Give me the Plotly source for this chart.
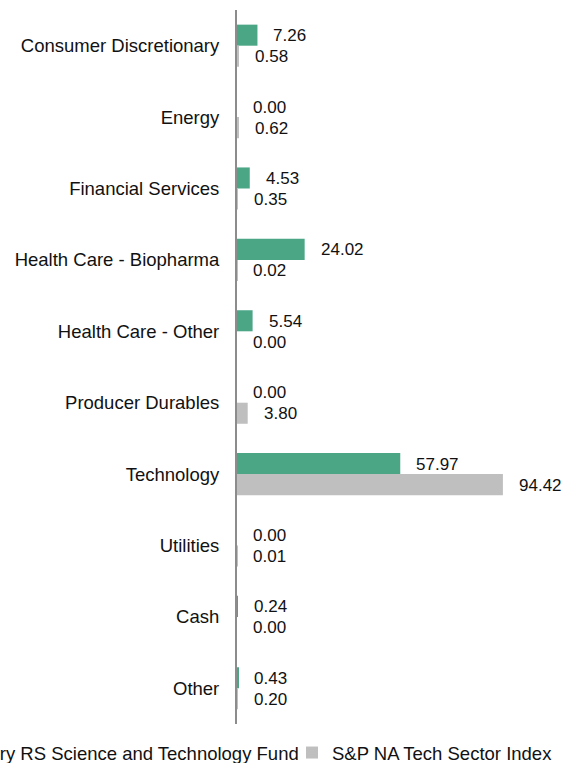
import plotly.graph_objects as go

# Sector weights (%)
categories = [
    "Consumer Discretionary", "Energy", "Financial Services",
    "Health Care - Biopharma", "Health Care - Other", "Producer Durables",
    "Technology", "Utilities", "Cash", "Other",
]
fund_name = "Victory RS Science and Technology Fund"
index_name = "S&P NA Tech Sector Index"
fund_values = [7.26, 0.00, 4.53, 24.02, 5.54, 0.00, 57.97, 0.00, 0.24, 0.43]
index_values = [0.58, 0.62, 0.35, 0.02, 0.00, 3.80, 94.42, 0.01, 0.00, 0.20]

GREEN = "#4BA686"
GRAY = "#BFBFBF"
FONT = "Liberation Sans, Arial, sans-serif"

W, H = 562, 763
M_L, M_R, M_T, M_B = 237, 0, 10, 39
X_MAX = 115.4

fig = go.Figure()
fig.add_trace(go.Bar(
    y=categories, x=fund_values, orientation="h", name=fund_name,
    marker=dict(color=GREEN, line=dict(width=0)), legend="legend",
))
fig.add_trace(go.Bar(
    y=categories, x=index_values, orientation="h", name=index_name,
    marker=dict(color=GRAY, line=dict(width=0)), legend="legend2",
))

# Value labels beside each bar
annotations = []
for cat, fv, iv in zip(categories, fund_values, index_values):
    for val, shift in ((fv, 10.5), (iv, -10.5)):
        annotations.append(dict(
            x=val, y=cat, xref="x", yref="y", text=f"{val:.2f}",
            showarrow=False, xanchor="left", yanchor="middle",
            xshift=14, yshift=shift - 0.5,
            font=dict(family=FONT, size=17, color="#111111"),
        ))

plot_w = W - M_L - M_R
plot_h = H - M_T - M_B
legend_y = -(753 - (H - M_B)) / plot_h
fig.update_layout(
    width=W, height=H,
    margin=dict(l=M_L, r=M_R, t=M_T, b=M_B, pad=0, autoexpand=False),
    paper_bgcolor="white", plot_bgcolor="white",
    barmode="group", bargap=0.41, bargroupgap=0,
    font=dict(family=FONT, size=18.5, color="#111111"),
    showlegend=True,
    legend=dict(
        orientation="h", xanchor="right", yanchor="middle",
        x=(304 - M_L) / plot_w, y=legend_y,
        font=dict(family=FONT, size=18.5, color="#111111"),
        bgcolor="rgba(0,0,0,0)",
    ),
    legend2=dict(
        orientation="h", xanchor="left", yanchor="middle",
        x=(292 - M_L) / plot_w, y=legend_y,
        font=dict(family=FONT, size=18.5, color="#111111"),
        bgcolor="rgba(0,0,0,0)",
    ),
    annotations=annotations,
    xaxis=dict(range=[0, X_MAX], visible=False, fixedrange=True),
    yaxis=dict(
        categoryorder="array", categoryarray=categories, autorange="reversed",
        showline=True, linecolor="#8C8C8C", linewidth=2,
        ticks="", showgrid=False, zeroline=False,
        ticklabelstandoff=12,
        tickfont=dict(family=FONT, size=18.5, color="#111111"),
    ),
)

fig.write_html("out.html")
